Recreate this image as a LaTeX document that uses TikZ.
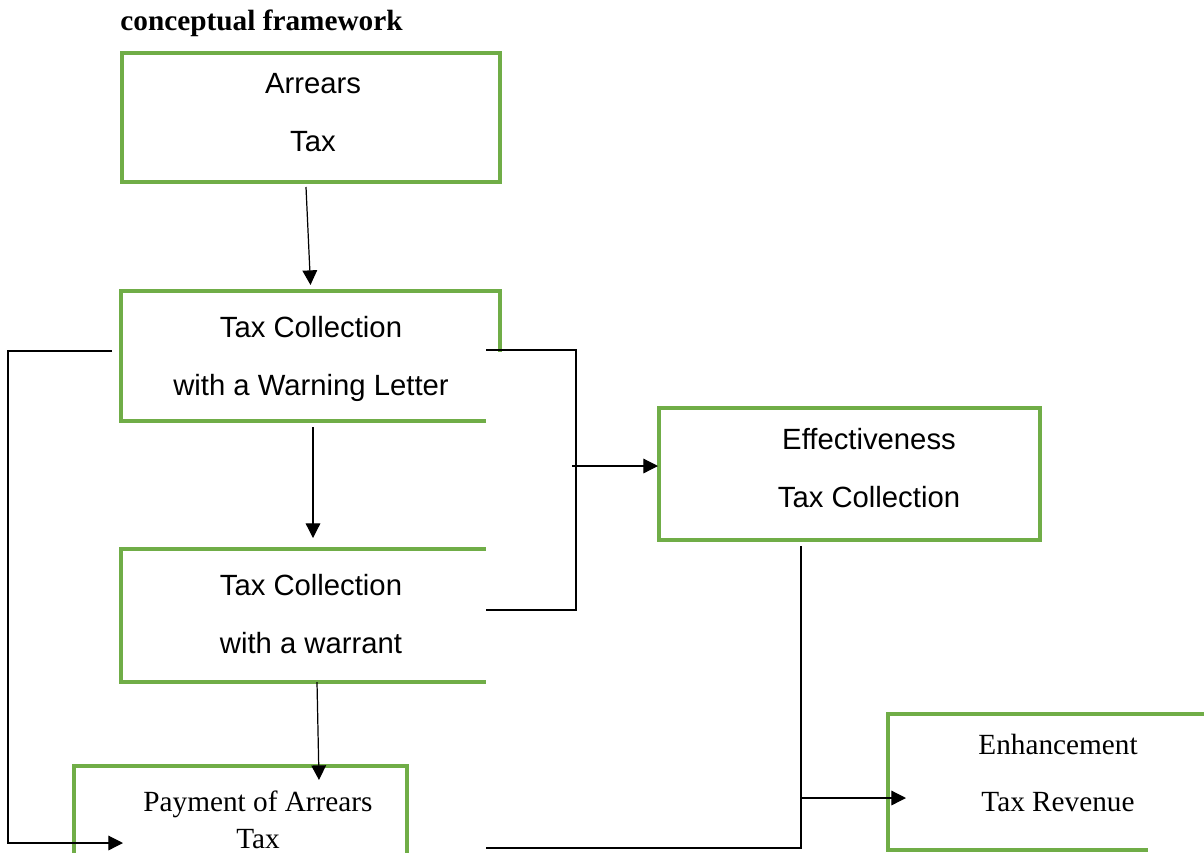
\documentclass[tikz,border=0pt]{standalone}
\usepackage{fontspec}
\setmainfont{Liberation Serif}
\setsansfont{Liberation Sans}
\usetikzlibrary{arrows.meta, fit, calc}
\definecolor{boxgreen}{HTML}{70AD47}

\begin{document}
\begin{tikzpicture}[x=0.41pt, y=-0.41pt,
    sanstext/.style={align=center, font=\sffamily\fontsize{12}{23.8}\selectfont},
    seriftext/.style={align=center, font=\rmfamily\fontsize{12}{#1}\selectfont}]
\useasboundingbox (0,0) rectangle (1204,852);
\clip (0,0) rectangle (1204,852);

\node (title) at (120,30) [anchor=base west, inner sep=0pt, font=\bfseries\fontsize{12}{14}\selectfont] {conceptual framework};

\begin{scope}[every node/.style={rectangle, inner sep=0pt, outer sep=0pt, line width=1.3pt}]
    \node (arrears) [fit={(122,53) (500,182)}, draw=boxgreen] {};
    \node (arrtext) at (313,113) [sanstext] {Arrears\\Tax};

    \node (warning) [fit={(121,291) (500,421)}] {};
    \node (warntext) at (311,358.5) [sanstext] {Tax Collection\\with a Warning Letter};

    \node (warrant) [fit={(121,549) (500,682)}] {};
    \node (wartext) at (311,614.5) [sanstext] {Tax Collection\\with a warrant};

    \node (payment) [fit={(74,766) (407,900)}] {};
    \node (paytext) at (258,820) [seriftext=15.2] {Payment of Arrears\\Tax};

    \node (effect) [fit={(659,408) (1040,540)}, draw=boxgreen] {};
    \node (efftext) at (869,468) [sanstext] {Effectiveness\\Tax Collection};

    \node (enhance) [fit={(888,714) (1230,850)}] {};
    \node (enhtext) at (1058,773) [seriftext=23] {Enhancement\\Tax Revenue};
\end{scope}

% open green frames
\begin{scope}[boxgreen, line width=1.3pt]
    \draw ($(warning.south east)+(-14,0)$) -- (warning.south west) -- (warning.north west) -- (warning.north east) -- ++(0,61);
    \draw ($(warrant.north east)+(-14,0)$) -- (warrant.north west) -- (warrant.south west) -- ($(warrant.south east)+(-14,0)$);
    \draw (payment.south west) -- (payment.north west) -- (payment.north east) -- (payment.south east);
    \draw (enhance.north east) -- (enhance.north west) -- (enhance.south west) -- ++(260,0);
\end{scope}

\begin{scope}[>={Triangle[length=6pt, width=6pt]}, line width=0.5pt]
    \coordinate (merge) at (572,466);
    \coordinate (split) at (801,798);
    \draw [->] ($(arrears.south)+(-5,5)$) -- ($(warning.north)+(0,-6)$);
    \draw [->] ($(warning.south)+(2.5,6)$) -- ($(warrant.north)+(2.5,-11)$);
    \draw [->] ($(warrant.south)+(6.5,0)$) -- ($(payment.north west)+(245,14)$);
    \draw [->] ($(warning.west)+(-9,-5)$) -- ++(-104,0) |- ($(payment.north west)+(49,77)$);
    \draw ($(warning.north east)+(-14,59)$) -- ++(90,0) |- ($(warrant.north east)+(-14,61)$);
    \draw [->] (merge) -- ($(effect.north west)+(-1,58)$);
    \draw ($(effect.south west)+(142,6)$) |- ($(payment.north east)+(79,82)$);
    \draw [->] (split) -- ($(enhance.north west)+(18,84)$);
\end{scope}
\end{tikzpicture}
\end{document}
